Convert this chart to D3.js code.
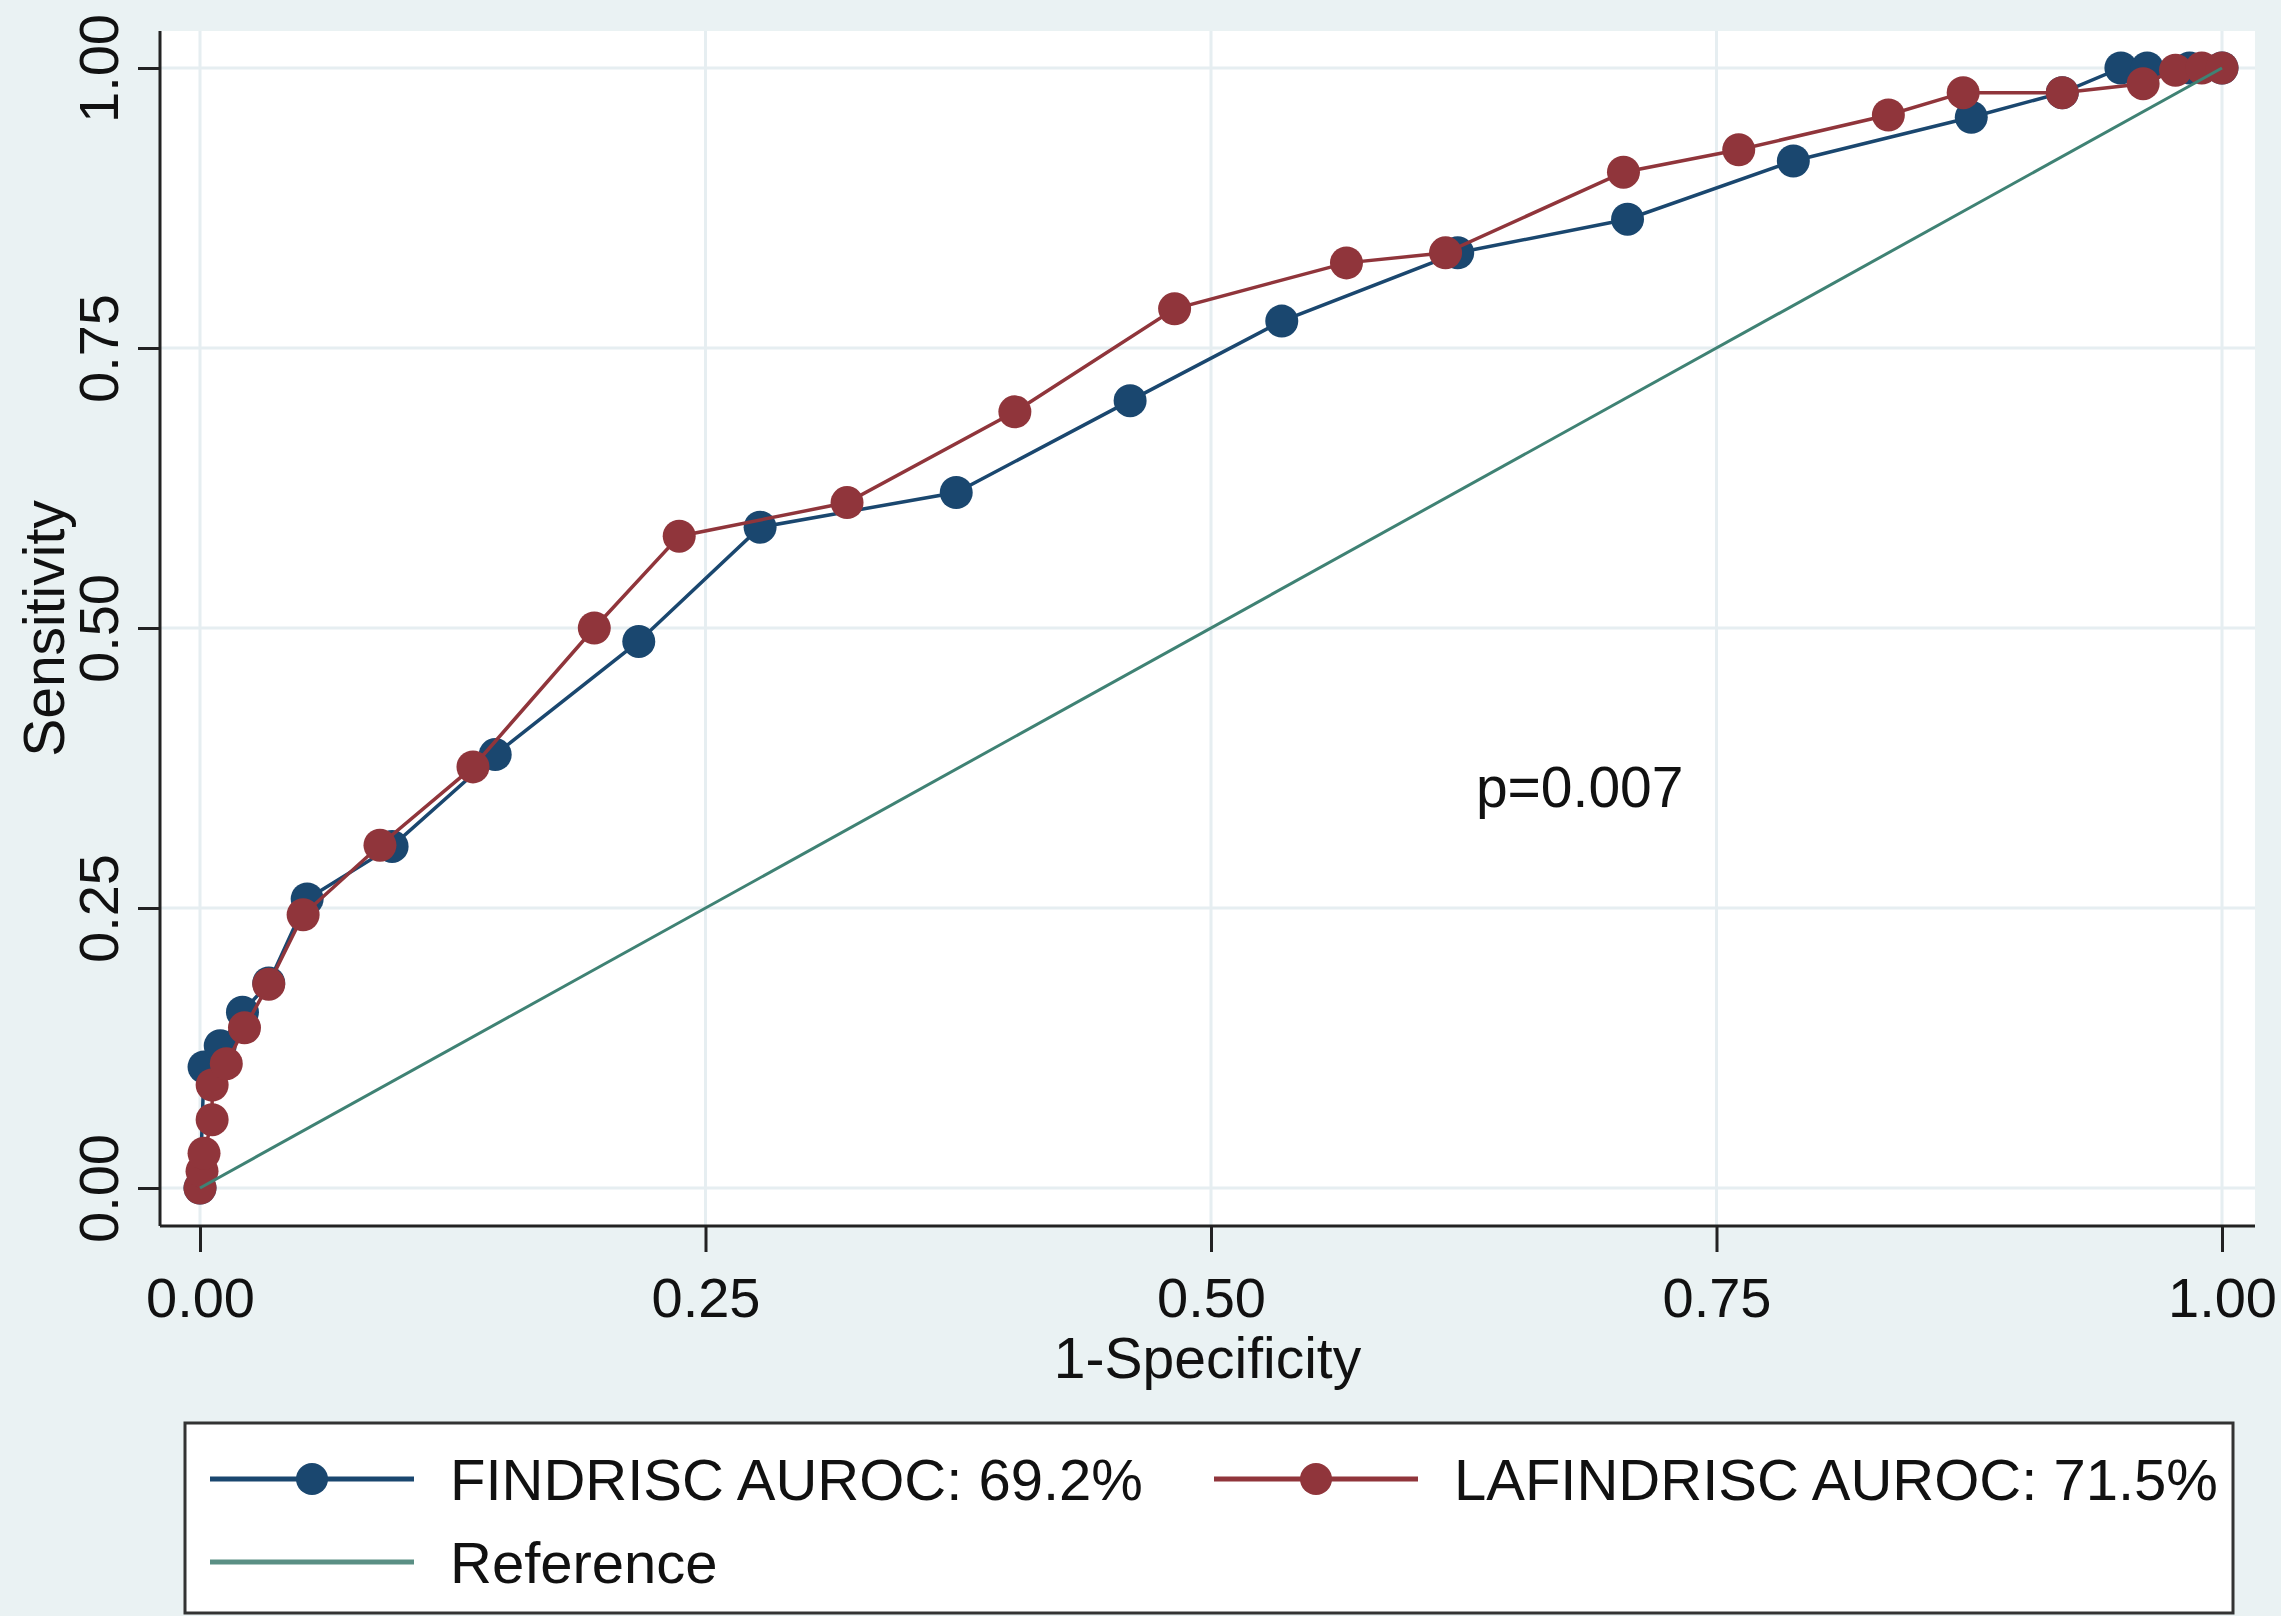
<!DOCTYPE html>
<html>
<head>
<meta charset="utf-8">
<script src="https://cdn.jsdelivr.net/npm/d3@7"></script>
<style>
  body { margin: 0; background: #eaf2f3; }
  text { font-family: "Liberation Sans", Arial, sans-serif; fill: #111; }
</style>
</head>
<body>
<div id="chart"></div>
<script>
var svgWidth = 2281;
var svgHeight = 1616;

// ROC points (1-specificity, sensitivity)
var findriscX = [0, 0.002, 0.010, 0.021, 0.034, 0.053, 0.095, 0.146, 0.217, 0.277, 0.374, 0.460, 0.535, 0.622, 0.706, 0.788, 0.876, 0.921, 0.950, 0.963, 0.984, 1];
var findriscY = [0, 0.108, 0.127, 0.157, 0.183, 0.258, 0.305, 0.387, 0.488, 0.590, 0.621, 0.703, 0.774, 0.835, 0.865, 0.917, 0.956, 0.978, 1, 1, 1, 1];

var lafindriscX = [0, 0.001, 0.002, 0.006, 0.006, 0.013, 0.022, 0.034, 0.051, 0.089, 0.135, 0.195, 0.237, 0.320, 0.403, 0.482, 0.567, 0.616, 0.704, 0.761, 0.835, 0.872, 0.921, 0.961, 0.977, 0.990, 1];
var lafindriscY = [0, 0.015, 0.031, 0.061, 0.092, 0.111, 0.143, 0.182, 0.244, 0.306, 0.376, 0.500, 0.582, 0.612, 0.693, 0.785, 0.826, 0.835, 0.907, 0.927, 0.958, 0.978, 0.978, 0.986, 0.998, 1, 1];

var referenceX = [0, 1];
var referenceY = [0, 1];

var tickValues = [0, 0.25, 0.5, 0.75, 1];
var tickLabels = ["0.00", "0.25", "0.50", "0.75", "1.00"];

var legendLabels = ["FINDRISC AUROC: 69.2%", "LAFINDRISC AUROC: 71.5%", "Reference"];
var pLabel = "p=0.007";

var navy = "#1a476f";
var maroon = "#90353b";
var teal = "#3f8274";

// plot region (white area)
var plot = { left: 160, top: 31, right: 2255, bottom: 1226 };

var svg = d3.select("#chart")
    .append("svg")
    .attr("width", svgWidth)
    .attr("height", svgHeight);

var x = d3.scaleLinear().domain([0, 1]).range([200, 2222]);
var y = d3.scaleLinear().domain([0, 1]).range([1188, 68]);

svg.append("rect")
  .attr("x", plot.left)
  .attr("y", plot.top)
  .attr("width", plot.right - plot.left)
  .attr("height", plot.bottom - plot.top)
  .attr("fill", "#ffffff");

// grid lines
var gridColor = "#e6eef1";
svg.append("g").selectAll("line").data(tickValues).enter()
  .append("line")
  .attr("x1", d => x(d)).attr("x2", d => x(d))
  .attr("y1", plot.top).attr("y2", plot.bottom)
  .attr("stroke", gridColor).attr("stroke-width", 3);

svg.append("g").selectAll("line").data(tickValues).enter()
  .append("line")
  .attr("x1", plot.left).attr("x2", plot.right)
  .attr("y1", d => y(d)).attr("y2", d => y(d))
  .attr("stroke", gridColor).attr("stroke-width", 3);

// axes
var bottomAxis = d3.axisBottom(x)
  .tickValues(tickValues)
  .tickFormat((d, i) => tickLabels[i])
  .tickSize(26)
  .tickPadding(25);

var leftAxis = d3.axisLeft(y)
  .tickValues(tickValues)
  .tickFormat((d, i) => tickLabels[i])
  .tickSize(22);

var xAxisG = svg.append("g")
  .attr("transform", `translate(0, ${plot.bottom})`)
  .call(bottomAxis);
xAxisG.select(".domain").remove();
xAxisG.selectAll(".tick line").attr("stroke", "#222").attr("stroke-width", 3);
xAxisG.selectAll(".tick text")
  .attr("font-size", "56px")
  .attr("fill", "#111")
  .attr("font-family", "Liberation Sans, Arial, sans-serif");

var yAxisG = svg.append("g")
  .attr("transform", `translate(${plot.left}, 0)`)
  .call(leftAxis);
yAxisG.select(".domain").remove();
yAxisG.selectAll(".tick line").attr("stroke", "#222").attr("stroke-width", 3);
yAxisG.selectAll(".tick text")
  .attr("x", null).attr("dy", null)
  .attr("text-anchor", "middle")
  .attr("transform", "translate(-42, 0) rotate(-90)")
  .attr("font-size", "56px")
  .attr("fill", "#111")
  .attr("font-family", "Liberation Sans, Arial, sans-serif");

// axis lines spanning the whole plot region
svg.append("line")
  .attr("x1", plot.left).attr("x2", plot.left)
  .attr("y1", plot.top).attr("y2", plot.bottom)
  .attr("stroke", "#222").attr("stroke-width", 3);
svg.append("line")
  .attr("x1", plot.left).attr("x2", plot.right)
  .attr("y1", plot.bottom).attr("y2", plot.bottom)
  .attr("stroke", "#222").attr("stroke-width", 3);

// axis titles
svg.append("text")
  .attr("transform", `translate(64, ${(plot.top + plot.bottom) / 2}) rotate(-90)`)
  .attr("text-anchor", "middle")
  .attr("font-size", "57px")
  .text("Sensitivity");

svg.append("text")
  .attr("x", (plot.left + plot.right) / 2)
  .attr("y", 1378)
  .attr("text-anchor", "middle")
  .attr("font-size", "57px")
  .text("1-Specificity");

// series
var line = d3.line().x(d => x(d[0])).y(d => y(d[1]));

function drawSeries(xs, ys, color) {
  var pts = xs.map((v, i) => [v, ys[i]]);
  svg.append("path")
    .datum(pts)
    .attr("d", line)
    .attr("fill", "none")
    .attr("stroke", color)
    .attr("stroke-width", 3.5);
  svg.append("g").selectAll("circle").data(pts).enter()
    .append("circle")
    .attr("cx", d => x(d[0]))
    .attr("cy", d => y(d[1]))
    .attr("r", 16.5)
    .attr("fill", color);
}

drawSeries(findriscX, findriscY, navy);
drawSeries(lafindriscX, lafindriscY, maroon);

svg.append("path")
  .datum(referenceX.map((v, i) => [v, referenceY[i]]))
  .attr("d", line)
  .attr("fill", "none")
  .attr("stroke", teal)
  .attr("stroke-width", 3);

svg.append("text")
  .attr("x", x(0.631))
  .attr("y", y(0.34))
  .attr("font-size", "57px")
  .text(pLabel);

// legend
var legend = svg.append("g");
legend.append("rect")
  .attr("x", 185).attr("y", 1423)
  .attr("width", 2048).attr("height", 190)
  .attr("fill", "#ffffff")
  .attr("stroke", "#333").attr("stroke-width", 3);

var legendItems = [
  { label: legendLabels[0], color: navy, x0: 210, ly: 1479, marker: true },
  { label: legendLabels[1], color: maroon, x0: 1214, ly: 1479, marker: true },
  { label: legendLabels[2], color: "#5a8f84", x0: 210, ly: 1562, marker: false }
];

legendItems.forEach(item => {
  legend.append("line")
    .attr("x1", item.x0).attr("x2", item.x0 + 204)
    .attr("y1", item.ly).attr("y2", item.ly)
    .attr("stroke", item.color).attr("stroke-width", 5);
  if (item.marker) {
    legend.append("circle")
      .attr("cx", item.x0 + 102).attr("cy", item.ly)
      .attr("r", 16)
      .attr("fill", item.color);
  }
  legend.append("text")
    .attr("x", item.x0 + 240)
    .attr("y", item.ly + 21)
    .attr("font-size", "58px")
    .text(item.label);
});
</script>
</body>
</html>
